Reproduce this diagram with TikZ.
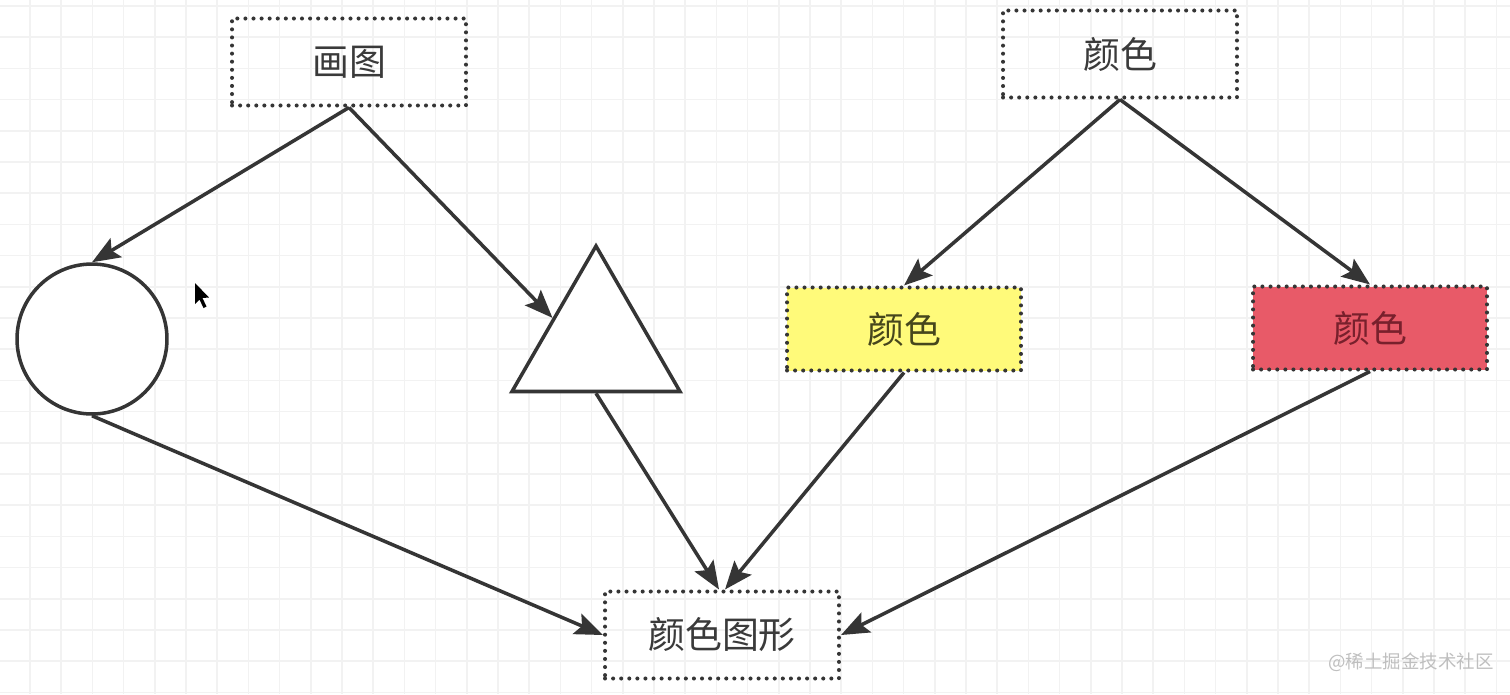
\documentclass[tikz,border=0pt]{standalone}
\usepackage{fontspec}
\newfontfamily\cjk{Noto Sans CJK SC}
\usetikzlibrary{arrows.meta, shapes.geometric}
\definecolor{linegray}{HTML}{353535}
\definecolor{textgray}{HTML}{3A3A3A}
\definecolor{boxyellow}{RGB}{255,250,122}
\definecolor{boxred}{RGB}{232,90,104}
\definecolor{redtext}{RGB}{120,32,44}
\definecolor{yellowtext}{RGB}{70,70,28}
\tikzset{
	gridline/.style={draw=gray!10, line width=0.9pt}
}
\tikzset{
	dotbox/.style={draw=linegray, line width=2.3pt, dash pattern=on 0pt off 4.6pt, line cap=round,
		minimum width=4.68cm, minimum height=1.74cm, inner sep=0pt,
		font=\cjk\fontsize{21}{25}\selectfont, text=textgray}
}
\tikzset{
	figure/.style={draw=linegray, line width=2pt, fill=white, inner sep=0pt}
}
\tikzset{
	link/.style={draw=linegray, line width=2pt, ->}
}

\begin{document}
\begin{tikzpicture}[x=0.02cm, y=-0.02cm, >={Stealth[length=16pt, width=12.5pt, inset=3pt]}]
      \useasboundingbox (0,0) rectangle (1510,694);
      \fill[white] (0,0) rectangle (1510,694);
      % grid
      \foreach \i in {0,...,47} {
        \draw[gridline] ({30+31.2*\i},0) -- ({30+31.2*\i},694);
      }
      \foreach \j in {0,...,22} {
        \draw[gridline] (0,{6+31.2*\j}) -- (1510,{6+31.2*\j});
      }
      % boxes
      \node[dotbox] (draw) at (349,62) {画图};
      \node[dotbox] (color) at (1120,54) {颜色};
      \node[dotbox, fill=boxyellow, text=yellowtext, minimum height=1.66cm] (yellow) at (904,329) {颜色};
      \node[dotbox, fill=boxred, text=redtext, minimum height=1.66cm] (red) at (1370,328) {颜色};
      \node[dotbox] (result) at (722,635) {颜色图形};
      % shapes
      \node[figure, circle, minimum size=3cm] (circ) at (92,339) {};
      \node[figure, regular polygon, regular polygon sides=3, minimum size=3.88cm] (tri) at (596,343) {};
      % cursor
      \fill[black] (195,283) -- (195,304) -- (199.5,299.5) -- (203.5,308) -- (206.5,306.5) -- (202.5,298) -- (209,297.5) -- cycle;
      % arrows
      \draw[link] (draw.south) -- (circ.north);
      \draw[link] (draw.south) -- (tri.side 1);
      \draw[link] (color.south) -- (yellow.north);
      \draw[link] (color.south) -- (red.north);
      \draw[link] (circ.south) -- (result.west);
      \draw[link] (tri.side 2) -- ([xshift=-0.06cm]result.north);
      \draw[link] (yellow.south) -- ([xshift=0.06cm]result.north);
      \draw[link] (red.south) -- (result.east);
      % watermark
      \node[font=\cjk\fontsize{10.5}{12}\selectfont, text=gray!50] (mark) at (1411,662) {@稀土掘金技术社区};
    \end{tikzpicture}
\end{document}
